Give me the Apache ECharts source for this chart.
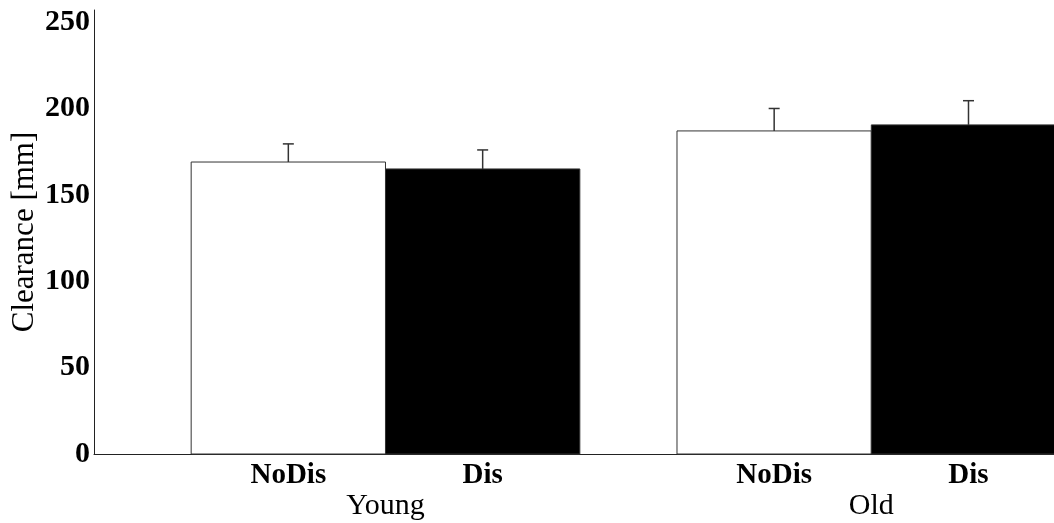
<!DOCTYPE html>
<html>
<head>
<meta charset="utf-8">
<script src="https://cdn.jsdelivr.net/npm/echarts@6/dist/echarts.min.js"></script>
<style>html,body{margin:0;padding:0;background:#fff;}#c{width:1054px;height:523px;}</style>
</head>
<body>
<div id="c"></div>
<script>
// Data
const barNames = ['NoDis', 'Dis', 'NoDis', 'Dis'];
const barPositions = [1, 2, 3.5, 4.5];
const groupNames = ['Young', 'Old'];
const groupPositions = [1.5, 4];
const means = [169, 165, 187, 190.5];
const errors = [10.5, 11, 13, 14];
const barColors = ['#ffffff', '#000000', '#ffffff', '#000000'];
const yTicks = [0, 50, 100, 150, 200, 250];

const FONT = '"Liberation Serif", "Times New Roman", serif';

const barData = barPositions.map((p, i) => [p, means[i], errors[i], i]);

const chart = echarts.init(document.getElementById('c'), null, {renderer: 'canvas'});
chart.setOption({
  animation: false,
  backgroundColor: '#fff',
  grid: {left: 94, right: 0, top: 10, bottom: 69, containLabel: false, outerBoundsMode: 'none'},
  xAxis: [{
    type: 'value', min: 0, max: 4.94,
    axisLine: {show: true, onZero: false, lineStyle: {color: '#222', width: 1}},
    axisTick: {show: false},
    splitLine: {show: false},
    axisLabel: {
      customValues: barPositions,
      formatter: (v) => barNames[barPositions.indexOf(v)],
      fontFamily: FONT, fontSize: 29, fontWeight: 'bold', color: '#000', margin: 7
    }
  }, {
    type: 'value', min: 0, max: 4.94, position: 'bottom', offset: 32,
    axisLine: {show: false}, axisTick: {show: false}, splitLine: {show: false},
    axisLabel: {
      customValues: groupPositions,
      formatter: (v) => groupNames[groupPositions.indexOf(v)],
      fontFamily: FONT, fontSize: 30, color: '#000', margin: 5
    }
  }],
  yAxis: {
    type: 'value', min: 0, max: 257, interval: 50,
    name: 'Clearance [mm]', nameLocation: 'middle', nameGap: 54, nameMoveOverlap: false,
    nameTextStyle: {fontFamily: FONT, fontSize: 31, color: '#000'},
    axisLine: {show: true, lineStyle: {color: '#222', width: 1}},
    axisTick: {show: false},
    splitLine: {show: false},
    axisLabel: {
      customValues: yTicks,
      fontFamily: FONT, fontSize: 30, fontWeight: 'bold', color: '#000', margin: 4
    }
  },
  series: [{
    type: 'custom',
    xAxisIndex: 0,
    data: barData,
    encode: {x: 0, y: 1},
    renderItem: function (params, api) {
      const x = api.value(0), y = api.value(1), e = api.value(2), idx = api.value(3);
      const tl = api.coord([x - 0.5, y]);
      const br = api.coord([x + 0.5, 0]);
      const top = api.coord([x, y + e]);
      const mid = api.coord([x, y]);
      const cap = 5.5;
      return {
        type: 'group',
        children: [{
          type: 'rect',
          shape: {x: tl[0], y: tl[1], width: br[0] - tl[0], height: br[1] - tl[1]},
          style: {fill: barColors[idx], stroke: '#333', lineWidth: 1}
        }, {
          type: 'line',
          shape: {x1: mid[0], y1: mid[1], x2: top[0], y2: top[1]},
          style: {stroke: '#333', lineWidth: 1.5}
        }, {
          type: 'line',
          shape: {x1: top[0] - cap, y1: top[1], x2: top[0] + cap, y2: top[1]},
          style: {stroke: '#333', lineWidth: 1.5}
        }]
      };
    }
  }]
});
</script>
</body>
</html>
